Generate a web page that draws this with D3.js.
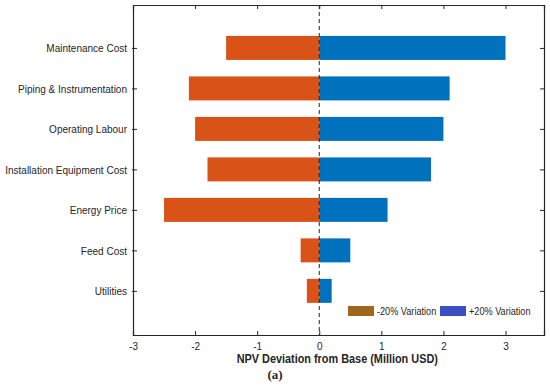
<!DOCTYPE html>
<html>
<head>
<meta charset="utf-8">
<script src="https://cdn.jsdelivr.net/npm/d3@7"></script>
<style>
  body { margin: 0; background: #fff; }
  text { font-family: "Liberation Sans", Arial, sans-serif; fill: #262626; }
</style>
</head>
<body>
<div id="chart"></div>
<script>
// data
var categories = ["Maintenance Cost", "Piping & Instrumentation", "Operating Labour",
  "Installation Equipment Cost", "Energy Price", "Feed Cost", "Utilities"]
var minus20 = [-1.5, -2.1, -2.0, -1.8, -2.5, -0.3, -0.2]
var plus20 = [3.0, 2.1, 2.0, 1.8, 1.1, 0.5, 0.2]
var xTicks = [-3, -2, -1, 0, 1, 2, 3]
var seriesNames = ["-20% Variation", "+20% Variation"]

var W = 550, H = 389
// plot box (note: "top" is taken by window.top)
var pl = 133, pr = 544, pt = 5, pb = 335
var squeeze = 0.87   // the original text is a bit narrower than Liberation Sans

var svg = d3.select("#chart").append("svg")
  .attr("width", W)
  .attr("height", H)

var x = d3.scaleLinear().domain([-3, 3.62]).range([pl, pr])
var y = d3.scaleLinear().domain([-0.06, 8.09]).range([pt, pb])
var barH = 24

var rows = categories.map(function (c, i) {
  return { name: c, pos: i + 1, lo: minus20[i], hi: plus20[i] }
})

// bars
svg.append("g").selectAll("rect")
  .data(rows)
  .join("rect")
  .attr("x", d => x(d.lo))
  .attr("y", d => y(d.pos) - barH / 2)
  .attr("width", d => x(0) - x(d.lo))
  .attr("height", barH)
  .attr("fill", "#D95319")

svg.append("g").selectAll("rect")
  .data(rows)
  .join("rect")
  .attr("x", x(0))
  .attr("y", d => y(d.pos) - barH / 2)
  .attr("width", d => x(d.hi) - x(0))
  .attr("height", barH)
  .attr("fill", "#0072BD")

// zero line
svg.append("line")
  .attr("x1", x(0)).attr("x2", x(0))
  .attr("y1", pt).attr("y2", pb)
  .attr("stroke", "#222")
  .attr("stroke-width", 1)
  .attr("stroke-dasharray", "4,3")

// axes, inward ticks like matlab
var axB = svg.append("g")
  .attr("transform", `translate(0,${pb})`)
  .call(d3.axisBottom(x).tickValues(xTicks).tickSize(-4).tickPadding(7).tickFormat(d => String(d)))
var axT = svg.append("g")
  .attr("transform", `translate(0,${pt})`)
  .call(d3.axisTop(x).tickValues(xTicks).tickSize(-4).tickFormat(""))
var axL = svg.append("g")
  .attr("transform", `translate(${pl},0)`)
  .call(d3.axisLeft(y).tickValues(rows.map(d => d.pos)).tickSize(-4).tickPadding(6)
    .tickFormat((d, i) => categories[i]))
var axR = svg.append("g")
  .attr("transform", `translate(${pr},0)`)
  .call(d3.axisRight(y).tickValues(rows.map(d => d.pos)).tickSize(-4).tickFormat(""))

;[axB, axT, axL, axR].forEach(function (a) {
  a.select(".domain").attr("stroke", "#262626").attr("stroke-width", 1.2)
  a.selectAll(".tick line").attr("stroke", "#262626")
  a.selectAll(".tick text").attr("font-size", 11.5).attr("fill", "#262626")
    .attr("font-family", "Liberation Sans, Arial, sans-serif")
})
// left ticks poke out a little
axL.selectAll(".tick line").attr("x1", -1)

// legend
var legend = svg.append("g")
var legColors = ["#A0661E", "#3A4FC0"]
var legX = [348, 440]
seriesNames.forEach(function (s, i) {
  legend.append("rect")
    .attr("x", legX[i]).attr("y", 306)
    .attr("width", 26).attr("height", 10)
    .attr("fill", legColors[i])
  legend.append("text")
    .attr("x", legX[i] + 29).attr("y", 315)
    .attr("font-size", 10.5)
    .text(s)
})

// labels
svg.append("text")
  .attr("x", x(0) + 18).attr("y", 363)
  .attr("text-anchor", "middle")
  .attr("font-size", 12.5)
  .attr("font-weight", "bold")
  .text("NPV Deviation from Base (Million USD)")

svg.append("text")
  .attr("class", "keep")
  .attr("x", 275).attr("y", 379)
  .attr("text-anchor", "middle")
  .attr("font-size", 13)
  .attr("font-weight", "bold")
  .style("font-family", "Liberation Serif, serif")
  .text("(a)")

// squeeze the sans texts horizontally
svg.selectAll("text").filter(function () { return !this.classList.contains("keep") })
  .each(function () {
    var w = this.getComputedTextLength()
    if (w > 0) {
      d3.select(this).attr("textLength", w * squeeze).attr("lengthAdjust", "spacingAndGlyphs")
    }
  })
</script>
</body>
</html>
